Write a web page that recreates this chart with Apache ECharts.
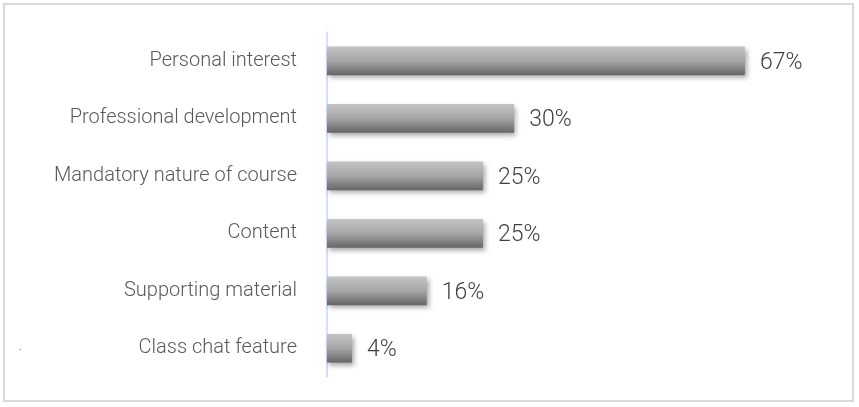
<!DOCTYPE html>
<html>
<head>
<meta charset="utf-8">
<script src="https://cdn.jsdelivr.net/npm/echarts@6/dist/echarts.min.js"></script>
<style>
html,body{margin:0;padding:0;background:#fff;}
#wrap{position:absolute;left:3px;top:3px;width:851px;height:399px;border:2px solid #d9d9d9;box-sizing:border-box;}
#c{position:absolute;left:0;top:0;width:859px;height:407px;}
</style>
</head>
<body>
<div id="wrap"></div>
<div id="c"></div>
<script>
const categories = ["Personal interest","Professional development","Mandatory nature of course","Content","Supporting material","Class chat feature"];
const values = [67,30,25,25,16,4];

const chart = echarts.init(document.getElementById('c'), null, {renderer:'canvas'});
chart.setOption({
  animation:false,
  grid:{left:327, top:32, right:33, height:345},
  xAxis:{type:'value', min:0, max:80, show:false},
  yAxis:{
    type:'category', inverse:true, data:categories,
    axisLine:{show:true, lineStyle:{color:'#c5d9f1', width:1.5}},
    axisTick:{show:false},
    axisLabel:{margin:30, color:'#595959', fontFamily:'Roboto', fontWeight:300, fontSize:20, verticalAlign:'middle', padding:[0,0,3,0]}
  },
  graphic:[{type:'text', left:19, top:342, style:{text:'.', fill:'#595959', fontSize:10, fontFamily:'Roboto'}}],
  series:[{
    type:'bar', data:values, barWidth:'50%',
    itemStyle:{
      color:new echarts.graphic.LinearGradient(0,0,0,1,[{offset:0,color:'#c4c4c4'},{offset:0.5,color:'#a6a6a6'},{offset:1,color:'#666666'}]),
      shadowColor:'rgba(0,0,0,0.35)', shadowBlur:5, shadowOffsetX:2, shadowOffsetY:3
    },
    label:{show:true, position:'right', distance:15, offset:[0,2], formatter:'{c}%', color:'#404040', fontFamily:'Roboto', fontWeight:300, fontSize:23}
  }]
});
</script>
</body>
</html>
